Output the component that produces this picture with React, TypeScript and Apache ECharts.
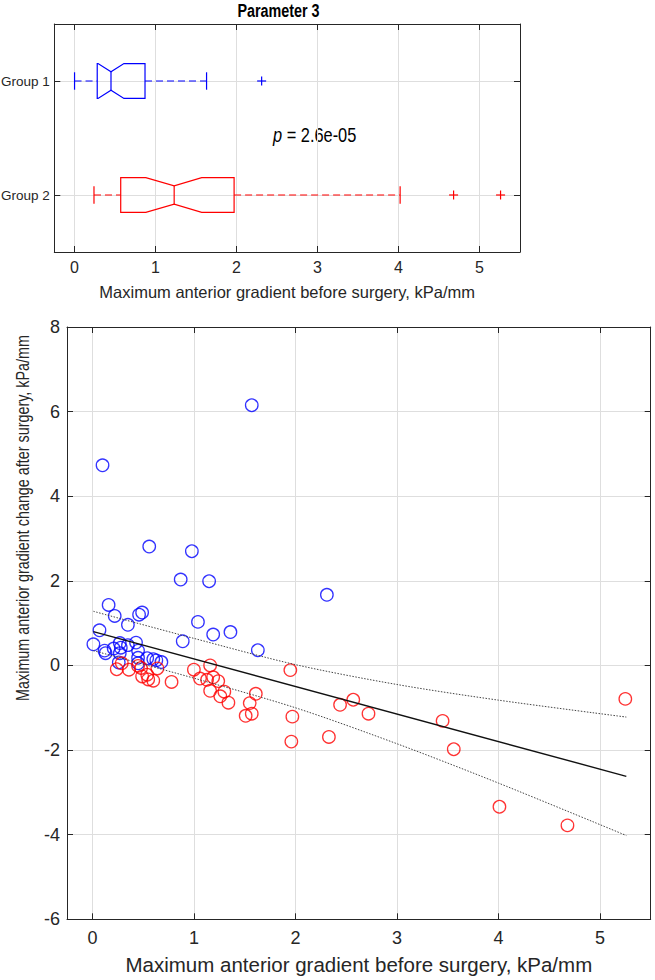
import { useEffect, useRef } from "react";
import * as echarts from "echarts";

const FONT = "'Liberation Sans', Arial, Helvetica, sans-serif";
const BLUE = "#0000ff";
const RED = "#ff0000";
const AXIS = "#262626";
const GRID = "#dedede";
// the reference lettering is narrower than Arial; graphic texts are squeezed to match
const SQUEEZE = 0.82;

// top panel: notched box plots
const titleText = "Parameter 3";
const groupNames = ["Group 1", "Group 2"];
const groupColors = [BLUE, RED];
const whiskerLow = [0.0, 0.24];
const quartile1 = [0.28, 0.57];
const notchLow = [0.29, 0.88];
const medians = [0.45, 1.23];
const notchHigh = [0.61, 1.57];
const quartile3 = [0.87, 1.97];
const whiskerHigh = [1.63, 4.02];
const outliers = [[2.31], [4.68, 5.26]];
const pValueText = "2.6e-05";

// bottom panel: scatter + fit
const xTitle = "Maximum anterior gradient before surgery, kPa/mm";
const yTitle = "Maximum anterior gradient change after surgery, kPa/mm";
const group1X = [0.01, 0.07, 0.10, 0.12, 0.13, 0.16, 0.21, 0.22, 0.26, 0.27, 0.27, 0.28, 0.35, 0.35, 0.43, 0.45, 0.45, 0.45, 0.46, 0.49, 0.54, 0.56, 0.60, 0.63, 0.68, 0.87, 0.89, 0.98, 1.04, 1.15, 1.19, 1.36, 1.57, 1.63, 2.31];
const group1Y = [0.50, 0.83, 4.73, 0.35, 0.29, 1.43, 0.40, 1.17, 0.07, 0.53, 0.29, 0.42, 0.96, 0.48, 0.54, 0.35, 0.18, 0.05, 1.20, 1.25, 0.17, 2.81, 0.15, 0.12, 0.08, 2.03, 0.57, 2.70, 1.03, 1.99, 0.73, 0.79, 6.15, 0.36, 1.67];
const group2X = [0.24, 0.29, 0.36, 0.45, 0.48, 0.49, 0.54, 0.55, 0.60, 0.64, 0.78, 1.00, 1.06, 1.13, 1.16, 1.16, 1.19, 1.24, 1.26, 1.30, 1.34, 1.51, 1.55, 1.57, 1.61, 1.95, 1.96, 1.97, 2.33, 2.44, 2.57, 2.72, 3.45, 3.56, 4.01, 4.68, 5.25];
const group2Y = [-0.09, 0.05, -0.10, -0.01, -0.06, -0.26, -0.22, -0.33, -0.36, -0.07, -0.39, -0.10, -0.31, -0.34, 0.00, -0.60, -0.28, -0.37, -0.73, -0.62, -0.88, -1.19, -0.89, -1.14, -0.67, -0.11, -1.80, -1.21, -1.69, -0.93, -0.81, -1.14, -1.31, -1.98, -3.34, -3.78, -0.79];
const fitX = [0.01, 5.26];
const fitY = [0.80, -2.62];
const boundX = [0.01, 1, 2, 3, 4, 5.26];
const upperY = [1.28, 0.64, 0.02, -0.45, -0.82, -1.22];
const lowerY = [0.35, -0.30, -1.00, -1.85, -2.78, -4.02];

const zip = (xs: number[], ys: number[]) => xs.map((x, i) => [x, ys[i]]);
const intLabel = (v: number) => (Number.isInteger(v) ? String(v) : "");

const frame = {
  axisLine: { onZero: false, lineStyle: { color: AXIS, width: 1 } },
  axisTick: { inside: true, length: 6, lineStyle: { color: AXIS } },
};
const mirror = (extra: object) => ({
  type: "value",
  ...frame,
  ...extra,
  axisLabel: { show: false },
  splitLine: { show: false },
});
const xRange = { min: -0.25, max: 5.5, minInterval: 1, maxInterval: 1 };
const groupRange = { min: 0.5, max: 2.5, minInterval: 1, maxInterval: 1, inverse: true };
const changeRange = { min: -6, max: 8, interval: 2 };

export default function App() {
  const ref = useRef<HTMLDivElement>(null);

  useEffect(() => {
    if (!ref.current) return;
    const chart = echarts.init(ref.current, undefined, { renderer: "svg" });

    const boxData = groupNames.map((_, i) => [
      i + 1,
      whiskerLow[i],
      quartile1[i],
      notchLow[i],
      medians[i],
      notchHigh[i],
      quartile3[i],
      whiskerHigh[i],
    ]);
    const outlierData = outliers.flatMap((xs, gi) => xs.map((x) => [x, gi + 1]));

    chart.setOption({
      animation: false,
      backgroundColor: "#fff",
      textStyle: { fontFamily: FONT },
      grid: [
        { left: 54.3, top: 24, width: 465.7, height: 228, outerBoundsMode: "none", containLabel: false },
        { left: 67, top: 327, width: 583.7, height: 592.3, outerBoundsMode: "none", containLabel: false },
      ],
      xAxis: [
        {
          type: "value",
          gridIndex: 0,
          position: "bottom",
          ...xRange,
          ...frame,
          axisLabel: { formatter: intLabel, fontSize: 16, color: AXIS, margin: 7, fontFamily: FONT },
          splitLine: { show: true, lineStyle: { color: GRID } },
          name: xTitle,
          nameLocation: "middle",
          nameGap: 31,
          nameTextStyle: { fontSize: 16.5, color: AXIS, fontFamily: FONT },
        },
        mirror({ gridIndex: 0, position: "top", ...xRange }),
        {
          type: "value",
          gridIndex: 1,
          position: "bottom",
          ...xRange,
          ...frame,
          axisLabel: { formatter: intLabel, fontSize: 18, color: AXIS, margin: 10, fontFamily: FONT },
          splitLine: { show: true, lineStyle: { color: GRID } },
          name: xTitle,
          nameLocation: "middle",
          nameGap: 35,
          nameTextStyle: { fontSize: 20.5, color: AXIS, fontFamily: FONT },
        },
        mirror({ gridIndex: 1, position: "top", ...xRange }),
      ],
      yAxis: [
        {
          type: "value",
          gridIndex: 0,
          position: "left",
          ...groupRange,
          ...frame,
          axisLabel: {
            formatter: (v: number) => (v === 1 ? groupNames[0] : v === 2 ? groupNames[1] : ""),
            fontSize: 13.5,
            color: AXIS,
            margin: 4.5,
            fontFamily: FONT,
          },
          splitLine: { show: true, lineStyle: { color: GRID } },
        },
        mirror({ gridIndex: 0, position: "right", ...groupRange }),
        {
          type: "value",
          gridIndex: 1,
          position: "left",
          ...changeRange,
          ...frame,
          axisLabel: { fontSize: 18, color: AXIS, margin: 7, fontFamily: FONT },
          splitLine: { show: true, lineStyle: { color: GRID } },
        },
        mirror({ gridIndex: 1, position: "right", ...changeRange }),
      ],
      graphic: [
        {
          type: "text",
          x: 278.5,
          y: 11,
          scaleX: SQUEEZE,
          style: {
            text: titleText,
            fontSize: 17.5,
            fontWeight: "bold",
            fontFamily: FONT,
            fill: "#000",
            align: "center",
            verticalAlign: "middle",
          },
        },
        {
          type: "text",
          x: 273,
          y: 135,
          scaleX: SQUEEZE,
          style: {
            text: `{i|p} = ${pValueText}`,
            fontSize: 20,
            fontFamily: FONT,
            fill: "#000",
            verticalAlign: "middle",
            rich: {
              i: { fontSize: 20, fontFamily: FONT, fontStyle: "italic", fill: "#000" },
            },
          },
        },
        {
          type: "text",
          x: 22.5,
          y: 518,
          rotation: Math.PI / 2,
          scaleX: SQUEEZE,
          style: {
            text: yTitle,
            fontSize: 17.5,
            fontFamily: FONT,
            fill: AXIS,
            align: "center",
            verticalAlign: "middle",
          },
        },
      ],
      series: [
        {
          type: "custom",
          xAxisIndex: 0,
          yAxisIndex: 0,
          data: boxData,
          encode: { x: [1, 2, 3, 4, 5, 6, 7], y: 0 },
          renderItem: (params: any, api: any) => {
            const i = params.dataIndex;
            const color = groupColors[i];
            const yv = api.value(0);
            const band = Math.abs(api.size([0, 1])[1]);
            const half = band * 0.153;
            const waist = half * 0.53;
            const cap = half * 0.5;
            const cy = api.coord([0, yv])[1];
            const px = (k: number) => api.coord([api.value(k), yv])[0];
            const wl = px(1), q1 = px(2), nl = px(3), md = px(4), nh = px(5), q3 = px(6), wh = px(7);
            const solid = { stroke: color, lineWidth: 1.2, fill: "none" };
            const dashed = { ...solid, lineDash: [7, 4] };
            return {
              type: "group",
              children: [
                {
                  type: "polygon",
                  shape: {
                    points: [
                      [q1, cy - half], [nl, cy - half], [md, cy - waist], [nh, cy - half], [q3, cy - half],
                      [q3, cy + half], [nh, cy + half], [md, cy + waist], [nl, cy + half], [q1, cy + half],
                    ],
                  },
                  style: solid,
                },
                { type: "line", shape: { x1: md, y1: cy - waist, x2: md, y2: cy + waist }, style: solid },
                { type: "line", shape: { x1: wl, y1: cy, x2: q1, y2: cy }, style: dashed },
                { type: "line", shape: { x1: q3, y1: cy, x2: wh, y2: cy }, style: dashed },
                { type: "line", shape: { x1: wl, y1: cy - cap, x2: wl, y2: cy + cap }, style: solid },
                { type: "line", shape: { x1: wh, y1: cy - cap, x2: wh, y2: cy + cap }, style: solid },
              ],
            };
          },
        },
        {
          type: "custom",
          xAxisIndex: 0,
          yAxisIndex: 0,
          data: outlierData,
          encode: { x: 0, y: 1 },
          renderItem: (_params: any, api: any) => {
            const [x, y] = api.coord([api.value(0), api.value(1)]);
            const color = groupColors[api.value(1) - 1];
            const s = 4.5;
            const style = { stroke: color, lineWidth: 1.2 };
            return {
              type: "group",
              children: [
                { type: "line", shape: { x1: x - s, y1: y, x2: x + s, y2: y }, style },
                { type: "line", shape: { x1: x, y1: y - s, x2: x, y2: y + s }, style },
              ],
            };
          },
        },
        {
          type: "scatter",
          xAxisIndex: 2,
          yAxisIndex: 2,
          data: zip(group1X, group1Y),
          symbol: "circle",
          symbolSize: 12.5,
          itemStyle: { color: "rgba(0,0,0,0)", borderColor: BLUE, borderWidth: 1.3 },
          z: 2,
        },
        {
          type: "scatter",
          xAxisIndex: 2,
          yAxisIndex: 2,
          data: zip(group2X, group2Y),
          symbol: "circle",
          symbolSize: 12.5,
          itemStyle: { color: "rgba(0,0,0,0)", borderColor: RED, borderWidth: 1.3 },
          z: 2,
        },
        {
          type: "line",
          xAxisIndex: 2,
          yAxisIndex: 2,
          data: zip(fitX, fitY),
          showSymbol: false,
          symbol: "none",
          lineStyle: { color: "#111", width: 1.4 },
          z: 3,
        },
        {
          type: "line",
          xAxisIndex: 2,
          yAxisIndex: 2,
          data: zip(boundX, upperY),
          smooth: 0.3,
          symbol: "none",
          lineStyle: { color: "#444", width: 1, type: [1.5, 1.5] },
          z: 3,
        },
        {
          type: "line",
          xAxisIndex: 2,
          yAxisIndex: 2,
          data: zip(boundX, lowerY),
          smooth: 0.3,
          symbol: "none",
          lineStyle: { color: "#444", width: 1, type: [1.5, 1.5] },
          z: 3,
        },
      ],
    });

    return () => {
      chart.dispose();
    };
  }, []);

  return (
    <div
      ref={ref}
      style={{ position: "absolute", left: 0, top: 0, width: 655, height: 980, background: "#fff" }}
    />
  );
}
